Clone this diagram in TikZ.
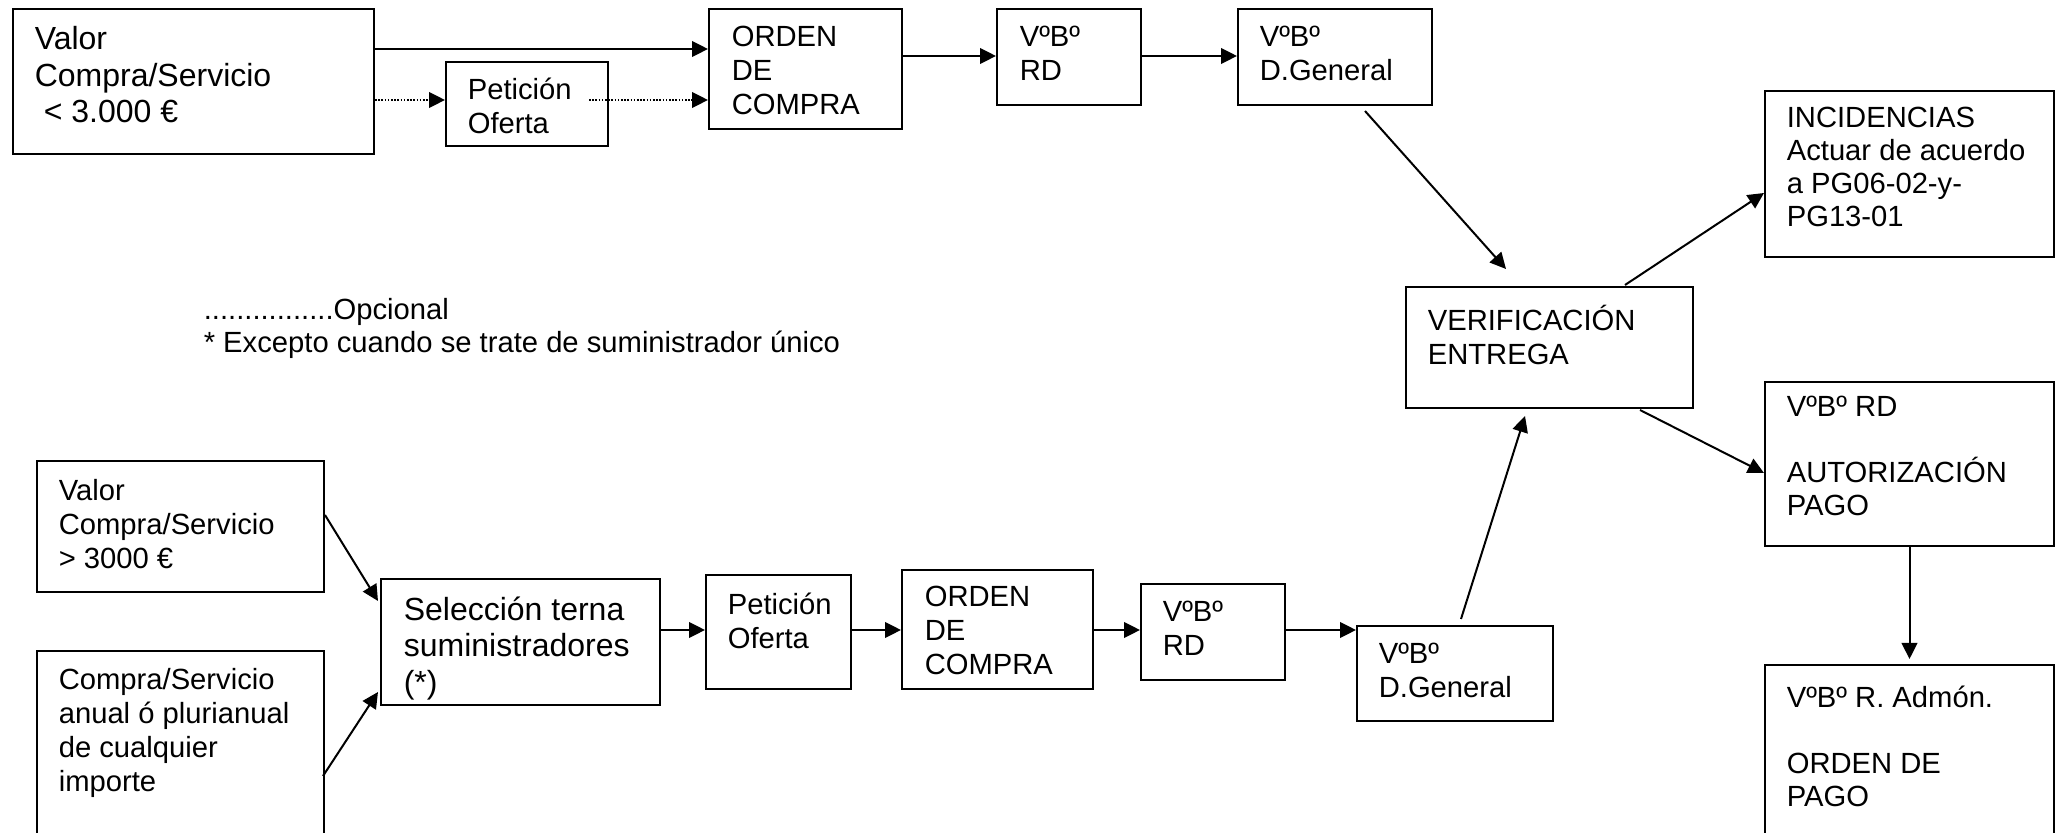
\documentclass[tikz,border=0pt]{standalone}
\usepackage{fontspec}
\setmainfont{Liberation Sans}
\usetikzlibrary{arrows.meta,fit,calc}
\begin{document}
\begin{tikzpicture}[x=0.25pt, y=-0.25pt,
  box/.style={draw, line width=0.5pt, inner sep=0pt, fill=white},
  txt/.style={inner sep=0pt, anchor=north west, align=left, font=\fontsize{7.3}{8.5}\selectfont},
  txtb/.style={txt, font=\fontsize{8}{9.1}\selectfont},
  txtr/.style={txt, font=\fontsize{7.3}{8.3}\selectfont},
  arr/.style={line width=0.5pt, -{Triangle[length=4pt,width=3.9pt]}},
  opt/.style={arr, dash pattern=on 0.4pt off 0.4pt}]
\useasboundingbox (0,0) rectangle (2058,833);
\clip (0,0) rectangle (2058,833);
\fill[white] (0,0) rectangle (2058,833);

% ---- upper route: purchases under 3.000 euros
\node[box, fit={(13,9) (374,154)}] (valA) {};
\node[txtb] at (34,26) {Valor\\Compra/Servicio\\\hspace*{0.28em}< 3.000 €};
\node[box, fit={(446,62) (608,146)}] (petT) {};
\node[txt] at (467,77) {Petición\\Oferta};
\node[box, fit={(709,9) (902,129)}] (ordT) {};
\node[txt] at (731,25) {ORDEN\\DE\\COMPRA};
\node[box, fit={(997,9) (1141,105)}] (rdT) {};
\node[txt] at (1019,25) {VºBº\\RD};
\node[box, fit={(1238,9) (1432,105)}] (dgT) {};
\node[txt] at (1259,25) {VºBº\\D.General};

% ---- delivery check and payment
\node[box, fit={(1406,287) (1693,408)}] (ver) {};
\node[txt] at (1427,304) {VERIFICACIÓN\\ENTREGA};
\node[box, fit={(1765,91) (2054,257)}] (inc) {};
\node[txtr] at (1786,106) {INCIDENCIAS\\Actuar de acuerdo\\a PG06-02-y-\\PG13-01};
\node[box, fit={(1765,382) (2054,546)}] (aut) {};
\node[txtr] at (1786,395) {VºBº RD\\[8.3pt]AUTORIZACIÓN\\PAGO};
\node[box, fit={(1765,665) (2054,845)}] (adm) {};
\node[txtr] at (1786,685) {VºBº R. Admón.\\[8.3pt]ORDEN DE\\PAGO};

% ---- legend
\node[txt, font=\fontsize{7.3}{8.25}\selectfont] (leg) at (203,298)
  {................Opcional\\* Excepto cuando se trate de suministrador único};

% ---- lower route: purchases over 3000 euros or yearly contracts
\node[box, fit={(37,461) (324,592)}] (valB) {};
\node[txt] at (58,479) {Valor\\Compra/Servicio\\> 3000 €};
\node[box, fit={(37,651) (324,845)}] (anu) {};
\node[txt] at (58,668) {Compra/Servicio\\anual ó plurianual\\de cualquier\\importe};
\node[box, fit={(381,579) (660,705)}] (sel) {};
\node[txtb] at (403,596) {Selección terna\\suministradores\\(*)};
\node[box, fit={(706,575) (851,689)}] (petB) {};
\node[txt] at (727,592) {Petición\\Oferta};
\node[box, fit={(902,570) (1093,689)}] (ordB) {};
\node[txt] at (924,585) {ORDEN\\DE\\COMPRA};
\node[box, fit={(1141,584) (1285,680)}] (rdB) {};
\node[txt] at (1162,600) {VºBº\\RD};
\node[box, fit={(1357,626) (1553,721)}] (dgB) {};
\node[txt] at (1378,642) {VºBº\\D.General};

% ---- connectors, upper route
\draw[arr] ($(valA.north east)+(0,41)$) -- ($(ordT.north west)+(0,41)$);
\draw[opt] ($(valA.north east)+(0,92)$) -- ($(petT.north west)+(0,39)$);
\draw[opt] ($(petT.north east)+(-20,39)$) -- ($(ordT.north west)+(0,92)$);
\draw[arr] ($(ordT.north east)+(0,48)$) -- ($(rdT.north west)+(0,48)$);
\draw[arr] ($(rdT.north east)+(0,48)$) -- ($(dgT.north west)+(0,48)$);
\draw[arr] ($(dgT.south west)+(128,5)$) -- ($(ver.north west)+(101,-17)$);

% ---- connectors, check and payment
\draw[arr] ($(ver.north east)+(-69,-1)$) -- ($(inc.north west)+(0,103)$);
\draw[arr] ($(ver.south east)+(-54,1)$) -- ($(aut.north west)+(0,92)$);
\draw[arr] (aut.south) -- ($(adm.north)+(0,-5)$);

% ---- connectors, lower route
\draw[arr] ($(valB.north east)+(0,55)$) -- ($(sel.north west)+(-2,23)$);
\draw[arr] ($(anu.north east)+(-2,126)$) -- ($(sel.north west)+(-2,114)$);
\draw[arr] ($(sel.north east)+(0,52)$) -- ($(petB.north west)+(0,56)$);
\draw[arr] ($(petB.north east)+(0,56)$) -- ($(ordB.north west)+(0,61)$);
\draw[arr] ($(ordB.north east)+(0,61)$) -- ($(rdB.north west)+(0,47)$);
\draw[arr] ($(rdB.north east)+(0,47)$) -- ($(dgB.north west)+(0,5)$);
\draw[arr] ($(dgB.north west)+(105,-6)$) -- ($(ver.south west)+(120,7)$);
\end{tikzpicture}
\end{document}
